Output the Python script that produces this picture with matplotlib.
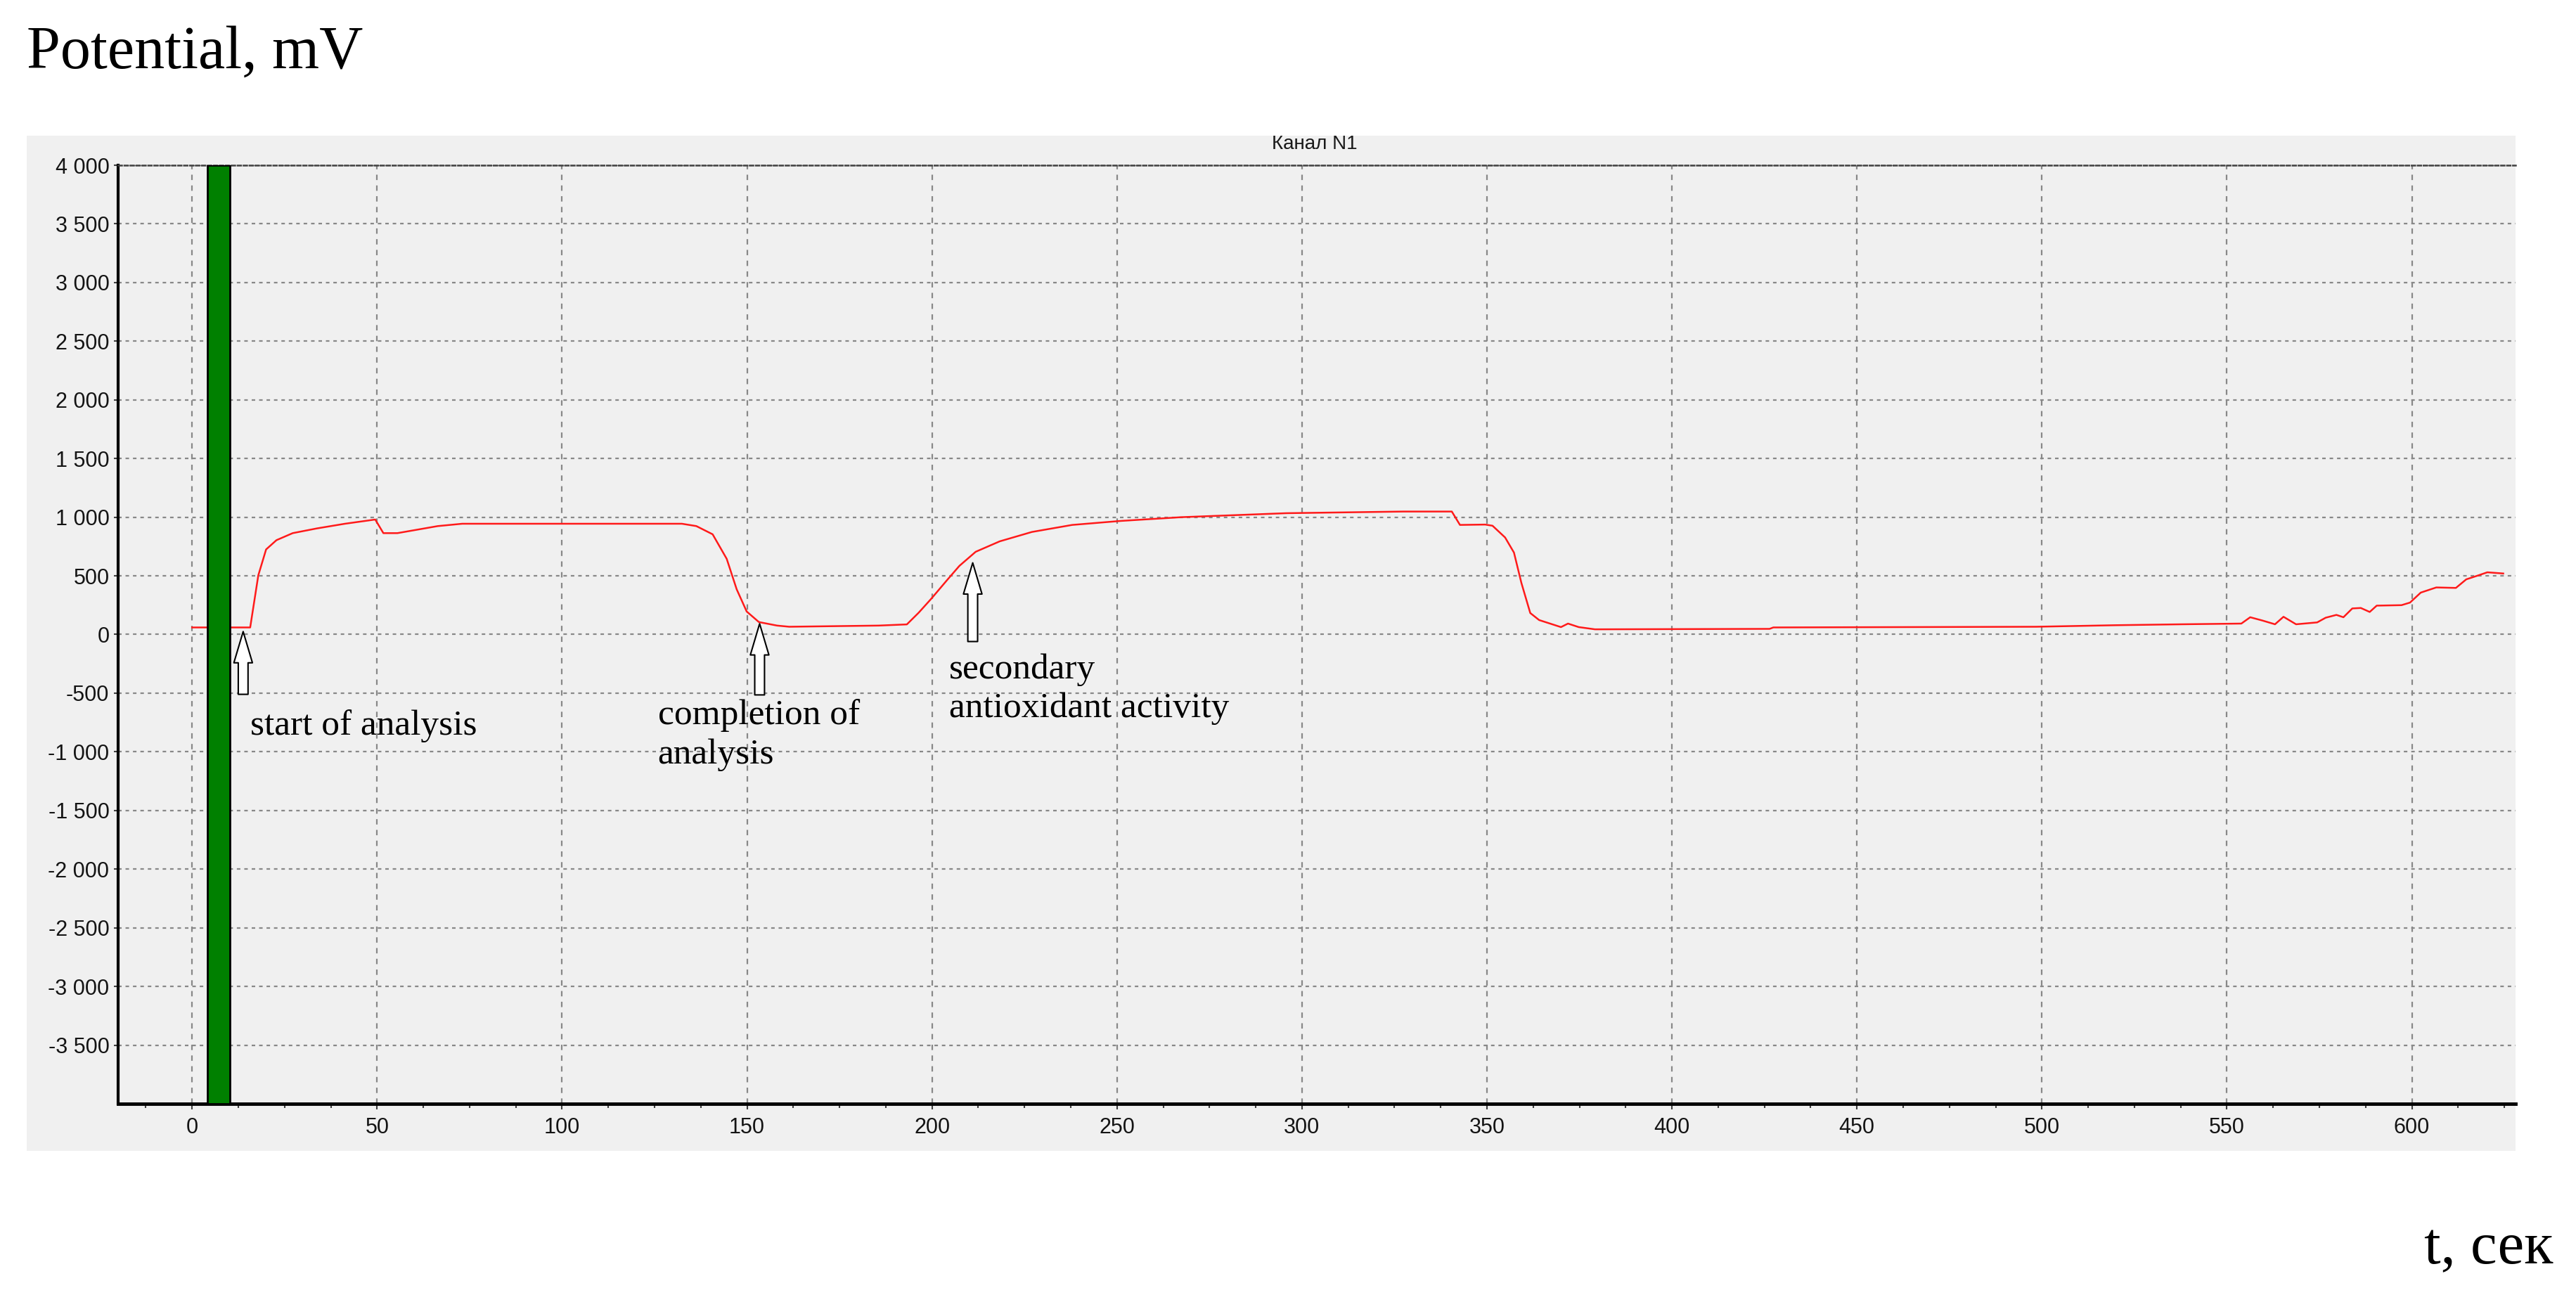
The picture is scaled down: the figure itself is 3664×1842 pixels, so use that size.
import matplotlib.pyplot as plt
from matplotlib.patches import Rectangle, FancyArrowPatch, ArrowStyle
from matplotlib.ticker import MultipleLocator

# potential trace (t in s, mV)
time_s = [0, 15.7, 17.9, 20.0, 22.8, 27.2, 33.7, 41.3, 49.5, 51.7, 55.5, 66.4, 73,
          97, 132.4, 136.3, 140.7, 144.5, 147.2, 149.9, 153.2, 158.1, 161.4,
          185.6, 193.2, 196.4, 199.8, 204.1, 207.4, 211.8, 218.3, 227, 237.9, 251,
          267.4, 295.8, 327.4, 340.5, 342.7, 349.5, 351.5, 354.9, 357.3, 359.3,
          361.7, 364.1, 370, 371.9, 374.8, 379.2, 426.4, 427.4, 498.4, 519.8,
          537.8, 553.9, 556.3, 559.6, 563, 565.3, 568.7, 574.4, 576.7, 579.6,
          581.5, 583.9, 586.2, 588.6, 590.5, 597.2, 599.5, 602.4, 606.6, 611.9,
          614.7, 617.6, 620.4, 624.7]
potential_mv = [60, 60, 505, 725, 804, 864, 904, 944, 980, 864, 864, 924, 944,
                944, 944, 924, 854, 645, 385, 196, 106, 76, 66,
                76, 86, 186, 305, 465, 585, 705, 794, 874, 934, 968,
                1000, 1034, 1048, 1048, 934, 937, 927, 827, 698, 440,
                183, 123, 63, 93, 63, 44, 48, 60, 66, 79,
                87, 93, 147, 119, 87, 151, 87, 103, 143, 167,
                147, 222, 226, 192, 246, 250, 272, 357, 401, 397,
                470, 500, 530, 520]

x_ticks = list(range(0, 601, 50))
y_ticks = list(range(-3500, 4001, 500))
y_tick_labels = [f"{v:,}".replace(",", " ") for v in y_ticks]

start_band = (4.2, 10.2)

arrow_x = [13.8, 153.4, 211.0]
arrow_tail = [-510, -515, -60]
arrow_tip = [25, 92, 611]

# one entry per text line, baseline positions in data units
note_lines = ["start of analysis", "completion of", "analysis",
              "secondary", "antioxidant activity"]
note_x = [15.7, 125.9, 125.9, 204.6, 204.6]
note_y = [-857, -767, -1100, -377, -705]

plt.rcParams['lines.scale_dashes'] = False
serif = 'Liberation Serif'
sans = 'Liberation Sans'

fig = plt.figure(figsize=(36.64, 18.42), dpi=100)
fig.add_artist(Rectangle((0.01037, 0.1113), 0.9662, 0.7839, transform=fig.transFigure,
                         facecolor='#f0f0f0', edgecolor='none', zorder=-10))

ax = fig.add_axes([0.04585, 0.1477, 0.93065, 0.7247])
ax.set_facecolor('#f0f0f0')
ax.set_xlim(-20, 628)
ax.set_ylim(-4000, 4000)

ax.set_xticks(x_ticks)
ax.xaxis.set_minor_locator(MultipleLocator(12.5))
ax.set_yticks(y_ticks)
ax.set_yticklabels(y_tick_labels)
for lab in ax.get_xticklabels() + ax.get_yticklabels():
    lab.set_family(sans)
    lab.set_color('#141414')

ax.tick_params(axis='x', which='major', length=6, width=1.5, pad=8, labelsize=22, color='#404040')
ax.tick_params(axis='x', which='minor', length=4, width=1.5, color='#404040')
ax.tick_params(axis='y', which='major', length=4, width=1.5, pad=5, labelsize=22, color='#404040')

ax.grid(axis='y', color='#888888', linestyle=(0, (3.6, 4)), linewidth=1.6, zorder=0)
ax.grid(axis='x', color='#888888', linestyle=(0, (5.5, 5.5)), linewidth=1.6, zorder=0)
ax.set_axisbelow(True)

ax.spines['right'].set_visible(False)
ax.spines['top'].set_linestyle((0, (3.6, 2.5)))
ax.spines['top'].set_color('#404040')
ax.spines['top'].set_linewidth(1.8)
ax.spines['left'].set_linewidth(3)
ax.spines['bottom'].set_linewidth(3.5)

ax.plot(time_s, potential_mv, color='#ff1a1a', linewidth=1.8, zorder=2)
ax.axvspan(start_band[0], start_band[1], facecolor='#008000', edgecolor='black',
           linewidth=2, zorder=3)

for x, y0, y1 in zip(arrow_x, arrow_tail, arrow_tip):
    arr = FancyArrowPatch((x, y0), (x, y1),
                          arrowstyle=ArrowStyle.Simple(head_length=32, head_width=19, tail_width=10),
                          mutation_scale=1, shrinkA=0, shrinkB=0,
                          facecolor='white', edgecolor='black', linewidth=1.5, zorder=4)
    ax.add_patch(arr)

for txt, x, y in zip(note_lines, note_x, note_y):
    ax.text(x, y, txt, fontsize=37, family=serif, ha='left', va='baseline', zorder=5)

fig.text(0.5104, 0.8887, 'Канал N1', ha='center', va='center', fontsize=20,
         family=sans, color='#1a1a1a')
fig.text(0.0104, 1 - 97 / 1842, 'Potential, mV', ha='left', va='baseline',
         fontsize=62, family=serif)
fig.text(0.991, 1 - 1797 / 1842, 't, сек', ha='right', va='baseline',
         fontsize=61, family=serif)

fig.savefig('out.png', dpi=100)
